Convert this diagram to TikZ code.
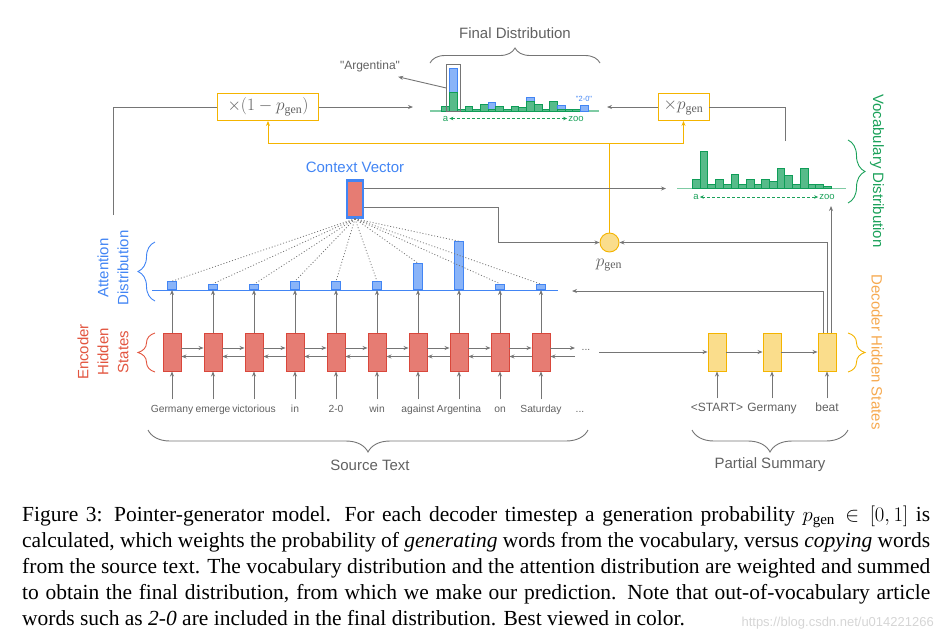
\documentclass[tikz,border=0pt]{standalone}
\usepackage{fontspec}
\setmainfont{Liberation Serif}
\newfontfamily\dsf{Liberation Sans}
\usetikzlibrary{arrows.meta,decorations.pathreplacing,calc}
\definecolor{lg}{HTML}{757575}
\definecolor{tg}{HTML}{616161}
\definecolor{redf}{HTML}{E67C73}
\definecolor{redb}{HTML}{D9473B}
\definecolor{redt}{HTML}{E2553F}
\definecolor{bluef}{HTML}{8AB4F8}
\definecolor{blueb}{HTML}{4285F4}
\definecolor{greenf}{HTML}{57BB8A}
\definecolor{greenb}{HTML}{0F9D58}
\definecolor{greenl}{HTML}{7FCBA4}
\definecolor{greent}{HTML}{1BA15A}
\definecolor{yelf}{HTML}{FADD8C}
\definecolor{yelb}{HTML}{F4B400}
\definecolor{orat}{HTML}{F6A94F}
\definecolor{wmc}{HTML}{D5D5D5}
\begin{document}
\begin{tikzpicture}[x=1pt,y=-1pt,
  gl/.style={draw=lg, line width=0.9pt},
  arr/.style={gl, -{Stealth[length=5pt,width=4pt]}},
  yl/.style={draw=yelb, line width=1pt},
  yarr/.style={yl, -{Stealth[length=5pt,width=4pt]}},
  enc/.style={draw=redb, fill=redf, line width=0.9pt, minimum width=18pt, minimum height=38pt, inner sep=0pt},
  dec/.style={draw=yelb, fill=yelf, line width=0.9pt, minimum width=18pt, minimum height=38pt, inner sep=0pt},
  abar/.style={draw=blueb, fill=bluef, line width=0.8pt, minimum width=8.5pt, inner sep=0pt, anchor=south},
  word/.style={font=\dsf\fontsize{10.3}{12}\selectfont, text=tg, inner sep=1pt, text height=7.5pt, text depth=2pt, outer sep=5pt},
  dword/.style={font=\dsf\fontsize{12}{14}\selectfont, text=tg, inner sep=1pt, text height=9pt, text depth=2.5pt, outer sep=3pt},
  lbl/.style={font=\dsf\fontsize{15}{20}\selectfont, align=center, inner sep=0pt},
  brc/.style={decorate, line width=0.9pt},
  gbar/.style={fill=greenf, draw=greenb, line width=0.6pt},
  bbar/.style={fill=bluef, draw=blueb, line width=0.6pt},
  mbox/.style={draw=yelb, line width=0.9pt, fill=white, minimum height=27pt, inner sep=2pt, text=tg, font=\fontsize{17}{20}\selectfont},
  sml/.style={font=\dsf\fontsize{9.5}{11}\selectfont, text=greent, inner sep=1pt},
  darr/.style={greent, dashed, dash pattern=on 3pt off 2pt, line width=0.8pt, {Stealth[length=4pt,width=3.5pt]}-{Stealth[length=4pt,width=3.5pt]}}
]
\useasboundingbox (0,0) rectangle (947,641);

% ---------------- attention baseline
\draw[blueb, line width=1pt] (152,290) -- (558,290);

% ---------------- encoder
\foreach \w/\h [count=\i from 0] in {Germany/8,emerge/5.5,victorious/5,in/8,2-0/8,win/8,against/26,Argentina/48,on/5.5,Saturday/5}{
  \pgfmathsetmacro\xx{172+41*\i}
  \node[enc] (e\i) at (\xx,352) {};
  \node[word] (w\i) at (\xx,410) {\w};
  \node[abar, minimum height=\h pt] (a\i) at (\xx,290) {};
  \draw[arr] (w\i.north) -- (e\i.south);
  \draw[arr] (e\i.north) -- (a\i.south);
}
\foreach \i in {0,...,8}{
  \pgfmathtruncatemacro\j{\i+1}
  \draw[arr] ([yshift=4pt]e\i.east) -- ([yshift=4pt]e\j.west);
  \draw[arr] ([yshift=-4.5pt]e\j.west) -- ([yshift=-4.5pt]e\i.east);
}
\coordinate (ef) at (575,348);
\coordinate (eb) at (575,356.5);
\draw[arr] ([yshift=4pt]e9.east) -- (ef);
\draw[arr] (eb) -- ([yshift=-4.5pt]e9.east);
\node[word, outer sep=8pt] (edots) at (586,348) {...};
\node[word] (wdots) at (580,410) {...};

% ---------------- context vector
\node[draw=blueb, fill=redf, line width=2.5pt, minimum width=16pt, minimum height=37pt, inner sep=0pt] (cv) at (355,199) {};
\node[lbl, text=blueb] (cvl) at (355,167) {Context Vector};
\foreach \i in {0,...,9}{
  \draw[lg, line width=0.8pt, dash pattern=on 1pt off 2pt] (cv.south) -- (a\i.north);
}

% ---------------- decoder
\foreach \w/\xx [count=\i from 0] in {<START>/717,Germany/772,beat/827}{
  \node[dec] (d\i) at (\xx,352) {};
  \node[dword] (dw\i) at (\xx,408) {\w};
  \draw[arr] (dw\i.north) -- (d\i.south);
}
\draw[arr] (d0) -- (d1);
\draw[arr] (d1) -- (d2);
\draw[arr] (edots.east |- d0.west) -- (d0.west);

% ---------------- p_gen
\node[circle, draw=yelb, fill=yelf, line width=0.9pt, minimum size=19pt, inner sep=0pt] (pg) at (609.5,242.5) {};
\node[text=tg, font=\fontsize{17}{20}\selectfont, inner sep=0pt] (pgl) at (609,265) {$p_{\mathrm{gen}}$};

% ---------------- weight boxes
\node[mbox, minimum width=101pt] (omp) at (268,107) {$\times(1-p_{\mathrm{gen}})$};
\node[mbox, minimum width=51pt] (tp) at (683.5,107) {$\times p_{\mathrm{gen}}$};

% yellow connections
\coordinate (yj) at (609.5,143);
\draw[yl] (pg.north) -- (yj);
\draw[yarr] (yj) -| (omp.south);
\draw[yarr] (yj) -| (tp.south);

% ---------------- final distribution
\draw[greenl, line width=1.5pt] (430,111) -- (599,111);
\foreach \g/\t [count=\k from 0] in {4.5/0,18.8/43,2.1/0,4.5/0,2.1/0,7/0,2.1/8.3,4.5/0,2.1/0,4.5/0,3.6/0,10/13.3,6.7/0,2.1/0,10/0,2.1/5.7,2.1/0,2.1/0,0/5.7}{
  \pgfmathsetmacro\xa{441.7+7.7*\k}
  \pgfmathsetmacro\xb{\xa+7.7}
  \ifdim \t pt>0pt \filldraw[bbar] (\xa,111) rectangle (\xb,111-\t); \fi
  \ifdim \g pt>0pt \filldraw[gbar] (\xa,111) rectangle (\xb,111-\g); \fi
}
\node[draw=lg, line width=0.8pt, minimum width=13.3pt, minimum height=47.4pt, inner sep=0pt] (argb) at (453.35,88) {};
\node[font=\dsf\fontsize{12}{14}\selectfont, text=tg, inner sep=1pt] (argl) at (370,66) {"Argentina"};
\draw[arr] (argb.west) -- ([shift={(-3pt,-4pt)}]argl.south east);
\node[font=\dsf\fontsize{7.5}{9}\selectfont, text=blueb, inner sep=0pt] (l20) at (584,99) {"2-0"};
\node[sml] (fa) at (445.5,118.5) {a};
\node[sml] (fz) at (576,118.5) {zoo};
\draw[darr] (fa.east) -- (fz.west);
\draw[brc, lg, decoration={brace, amplitude=15pt}] (430,63) -- (600,63);
\node[lbl, text=tg] (fdt) at (515,33) {Final Distribution};

% ---------------- vocabulary distribution
\draw[greenl, line width=1.5pt] (677,188.5) -- (846,188.5);
\foreach \h [count=\k from 0] in {9,37.6,4.3,9,4.3,14,4.3,9,4.3,9,7.3,20,13.3,4.3,20,4.3,4.3,2.3}{
  \pgfmathsetmacro\xa{692.3+7.7*\k}
  \pgfmathsetmacro\xb{\xa+7.7}
  \filldraw[gbar] (\xa,188.5) rectangle (\xb,188.5-\h);
}
\node[sml] (va) at (696,197) {a};
\node[sml] (vz) at (827,197) {zoo};
\draw[darr] (va.east) -- (vz.west);

% ---------------- connectors
\coordinate (attup) at (113,215);
\draw[gl] (attup) |- (omp.west);
\coordinate (fdl) at (413,107);
\draw[arr] (omp.east) -- (fdl);
\coordinate (fdr) at (607,107);
\draw[arr] (tp.west) -- (fdr);
\coordinate (vtop) at (785,141);
\draw[gl] (vtop) |- (tp.east);
\coordinate (vin) at (666,188.5);
\draw[arr] ([yshift=10.5pt]cv.east) -- (vin);
\coordinate (bend) at (498,242.5);
\draw[arr] ([yshift=-8.5pt]cv.east) -| (bend) -- (pg.west);
\coordinate (attin) at (572,291);
\draw[arr] ([xshift=-4pt]d2.north) |- (attin);
\draw[arr] (d2.north) |- (pg.east);
\coordinate (vocin) at (831,206);
\draw[arr] ([xshift=4pt]d2.north) -- (vocin);

% ---------------- braces and labels
\draw[brc, greent, decoration={brace, amplitude=17pt}] (848,140) -- (848,203);
\node[lbl, text=greent, rotate=-90] (vdl) at (877,171) {Vocabulary Distribution};
\draw[brc, yelb, decoration={brace, amplitude=17pt}] (848,333) -- (848,372);
\node[lbl, text=orat, rotate=-90] (ddl) at (877,352) {Decoder Hidden States};
\draw[brc, blueb, decoration={brace, amplitude=17pt}] (155,301) -- (155,242);
\node[lbl, text=blueb, rotate=90] (adl) at (113,268) {Attention\\Distribution};
\draw[brc, redt, decoration={brace, amplitude=17pt}] (155,372) -- (155,333);
\node[lbl, text=redt, rotate=90] (edl) at (103,352) {Encoder\\Hidden\\States};
\draw[brc, lg, decoration={brace, amplitude=22pt}] (588,430) -- (148,430);
\node[lbl, text=tg] (stl) at (370,465) {Source Text};
\draw[brc, lg, decoration={brace, amplitude=22pt}] (848,430) -- (692,430);
\node[lbl, text=tg] (psl) at (770,465) {Partial Summary};

% ---------------- caption
\node[anchor=north west, inner sep=0pt] (cap) at (22,506) {\parbox{908pt}{\fontsize{21.5}{26}\selectfont
Figure 3: Pointer-generator model.  For each decoder timestep a generation probability $p_{\mathrm{gen}}\in[0,1]$ is\linebreak
calculated, which weights the probability of \textit{generating} words from the vocabulary, versus \textit{copying} words\linebreak
from the source text. The vocabulary distribution and the attention distribution are weighted and summed\linebreak
to obtain the final distribution, from which we make our prediction. Note that out-of-vocabulary article\linebreak
words such as \textit{2-0} are included in the final distribution. Best viewed in color.}};
\node[anchor=base east, font=\dsf\fontsize{13}{15}\selectfont, text=wmc, inner sep=0pt] (wm) at (934,626) {https://blog.csdn.net/u014221266};
\end{tikzpicture}
\end{document}
